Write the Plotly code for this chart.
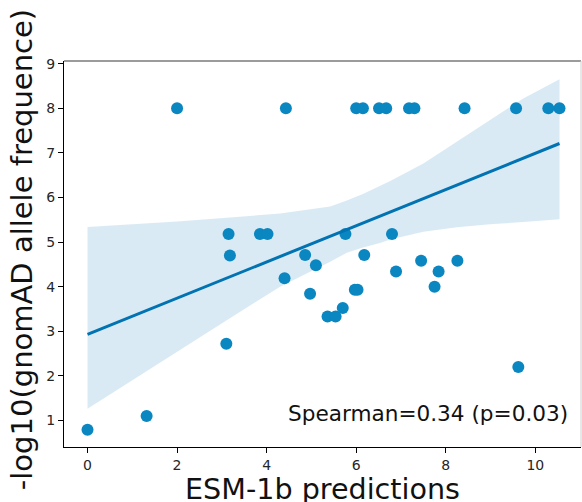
import plotly.graph_objects as go

# scatter data (ESM-1b prediction, -log10 gnomAD AF)
esm_x = [2.0, 4.43, 6.0, 6.15, 6.51, 6.67, 7.18, 7.30, 8.42, 9.57, 10.29, 10.54,
         3.15, 3.18, 3.85, 4.02, 4.40, 5.76, 6.80, 4.86, 6.18, 5.10, 7.45, 8.26,
         6.89, 7.84, 7.75, 5.97, 6.03, 4.97, 5.36, 5.54, 5.70, 9.62, 3.10, 1.32, 0.0]
af_y = [8.0, 8.0, 8.0, 8.0, 8.0, 8.0, 8.0, 8.0, 8.0, 8.0, 8.0, 8.0,
        5.18, 4.70, 5.18, 5.18, 4.19, 5.18, 5.18, 4.71, 4.71, 4.48, 4.58, 4.58,
        4.34, 4.34, 4.00, 3.93, 3.93, 3.84, 3.33, 3.33, 3.52, 2.20, 2.72, 1.10, 0.79]

# regression line
fit_x = [0.0, 10.54]
fit_y = [2.93, 7.21]

# confidence band
band_x = [0.0, 2.0, 3.18, 4.3, 5.42, 5.79, 6.15, 6.53, 6.76, 7.5, 8.25, 8.99, 9.73, 10.54]
band_hi = [5.34, 5.46, 5.55, 5.64, 5.80, 5.93, 6.08, 6.25, 6.37, 6.76, 7.25, 7.73, 8.22, 8.65]
band_lo = [1.26, 2.53, 3.29, 4.0, 4.56, 4.76, 4.88, 4.98, 5.06, 5.23, 5.33, 5.40, 5.45, 5.51]

x_ticks = [0, 2, 4, 6, 8, 10]
y_ticks = [1, 2, 3, 4, 5, 6, 7, 8, 9]

FONT = "DejaVu Sans"
PT = "#0a86c0"
LN = "#0173b2"

fig = go.Figure()
fig.add_trace(go.Scatter(x=band_x + band_x[::-1], y=band_hi + band_lo[::-1],
                         fill="toself", fillcolor="rgba(1,115,178,0.15)",
                         line=dict(width=0), mode="lines", hoverinfo="skip",
                         showlegend=False))
fig.add_trace(go.Scatter(x=esm_x, y=af_y, mode="markers",
                         marker=dict(color=PT, size=12, line=dict(width=0)),
                         showlegend=False))
fig.add_trace(go.Scatter(x=fit_x, y=fit_y, mode="lines",
                         line=dict(color=LN, width=3), showlegend=False))

axis_common = dict(showgrid=False, zeroline=False, showline=True,
                   linecolor="black", linewidth=1.2, ticks="outside",
                   ticklen=5, tickcolor="black", tickwidth=1.2,
                   tickfont=dict(family=FONT, size=14, color="#262626"))

fig.update_xaxes(range=[-0.525, 11.02], tickvals=x_ticks, **axis_common)
fig.update_yaxes(range=[0.405, 9.06], tickvals=y_ticks, **axis_common)

fig.update_layout(
    width=582, height=502,
    margin=dict(l=64, r=1, t=61, b=55),
    paper_bgcolor="white", plot_bgcolor="white",
    shapes=[
        dict(type="line", xref="paper", yref="paper", x0=0, x1=1, y0=1, y1=1,
             line=dict(color="#7a7a7a", width=1.6)),
        dict(type="line", xref="paper", yref="paper", x0=1, x1=1, y0=0, y1=1,
             line=dict(color="#d0d0d0", width=1)),
    ],
    annotations=[
        dict(text="Spearman=0.34 (p=0.03)", x=10.78, y=1.15, xref="x", yref="y",
             xanchor="right", yanchor="middle", showarrow=False,
             font=dict(family=FONT, size=21.6, color="#111")),
        dict(text="ESM-1b predictions", x=0.5, y=-0.108, xref="paper", yref="paper",
             xanchor="center", yanchor="middle", showarrow=False,
             font=dict(family=FONT, size=28.6, color="#111")),
        dict(text="-log10(gnomAD allele frequence)", x=-0.0812, y=0.51,
             xref="paper", yref="paper", textangle=-90,
             xanchor="center", yanchor="middle", showarrow=False,
             font=dict(family=FONT, size=29, color="#111")),
    ],
)

fig.write_html("out.html")
